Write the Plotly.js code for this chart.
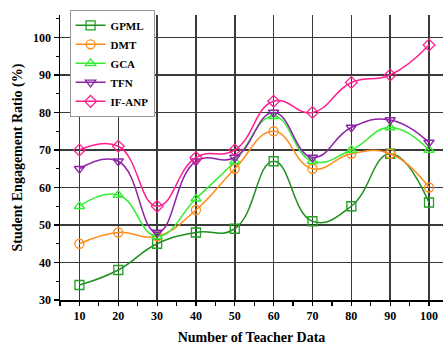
<!DOCTYPE html>
<html><head><meta charset="utf-8">
<script src="https://cdn.plot.ly/plotly-3.0.1.min.js"></script>
<style>html,body{margin:0;padding:0;background:#fff}#chart{width:443px;height:345px}</style>
</head><body><div id="chart"></div>
<script>
const xVals = [10, 20, 30, 40, 50, 60, 70, 80, 90, 100];
const seriesNames = ["GPML", "DMT", "GCA", "TFN", "IF-ANP"];
const gpml = [34, 38, 45, 48, 49, 67, 51, 55, 69, 56];
const dmt = [45, 48, 47, 54, 65, 75, 65, 69, 69, 60];
const gca = [55, 58, 47, 57, 67, 79, 67, 70, 76, 70];
const tfn = [65, 67, 48, 67, 68, 80, 68, 76, 78, 72];
const ifanp = [70, 71, 55, 68, 70, 83, 80, 88, 90, 98];
const xTicks = [10, 20, 30, 40, 50, 60, 70, 80, 90, 100];
const yTicks = [30, 40, 50, 60, 70, 80, 90, 100];

const lineColors = ["#1f8f1f", "#ff8c1a", "#33ee33", "#8e24a8", "#ff1f8f"];
const markerColors = ["#22a022", "#ff8c1a", "#33ee33", "#8e24a8", "#ff1f8f"];
const symbols = ["square-open", "circle-open", "triangle-up-open", "triangle-down-open", "diamond-open"];
const allData = [gpml, dmt, gca, tfn, ifanp];

const traces = allData.map((ys, i) => ({
  x: xVals, y: ys, name: seriesNames[i], type: "scatter", mode: "lines+markers",
  line: {shape: "spline", smoothing: 1.3, color: lineColors[i], width: 1.5},
  marker: {symbol: symbols[i], size: 9, color: markerColors[i], line: {width: 1.3, color: markerColors[i]}}
}));

const font = {family: "Liberation Serif, Times New Roman, serif", color: "#000"};
const layout = {
  width: 443, height: 345,
  margin: {l: 60, r: 0, t: 15, b: 45},
  paper_bgcolor: "#fff", plot_bgcolor: "#fff",
  font: font,
  showlegend: true,
  legend: {
    x: 0.025, y: 1.018, xanchor: "left", yanchor: "top",
    bgcolor: "#fff", bordercolor: "#999", borderwidth: 1,
    font: {family: font.family, size: 11, color: "#000", weight: "bold"},
    itemwidth: 30, tracegroupgap: 0
  },
  xaxis: {
    range: [5, 103.6], tickvals: xTicks, ticktext: xTicks.map(String),
    showgrid: true, gridcolor: "#3a3a3a", gridwidth: 1.5,
    showline: true, linecolor: "#000", linewidth: 1.5,
    ticks: "outside", ticklen: 4, tickwidth: 1.2, tickcolor: "#000",
    minor: {dtick: 5, tick0: 5, ticks: "outside", ticklen: 4, tickcolor: "#000", showgrid: false},
    tickfont: {family: font.family, size: 12, color: "#000", weight: "bold"},
    zeroline: false,
    title: {text: "Number of Teacher Data", font: {family: font.family, size: 14, color: "#000", weight: "bold"}, standoff: 12}
  },
  yaxis: {
    range: [30, 106], tickvals: yTicks, ticktext: yTicks.map(String),
    showgrid: true, gridcolor: "#3a3a3a", gridwidth: 1.5,
    showline: true, linecolor: "#000", linewidth: 1.5,
    ticks: "outside", ticklen: 5, tickwidth: 1.2, tickcolor: "#000",
    minor: {dtick: 5, tick0: 5, ticks: "outside", ticklen: 3, tickcolor: "#000", showgrid: false},
    tickfont: {family: font.family, size: 12, color: "#000", weight: "bold"},
    zeroline: false,
    title: {text: "Student Engagement Ratio (%)", font: {family: font.family, size: 14, color: "#000", weight: "bold"}, standoff: 7}
  }
};
Plotly.newPlot("chart", traces, layout, {displayModeBar: false, staticPlot: true});
</script>
</body></html>
